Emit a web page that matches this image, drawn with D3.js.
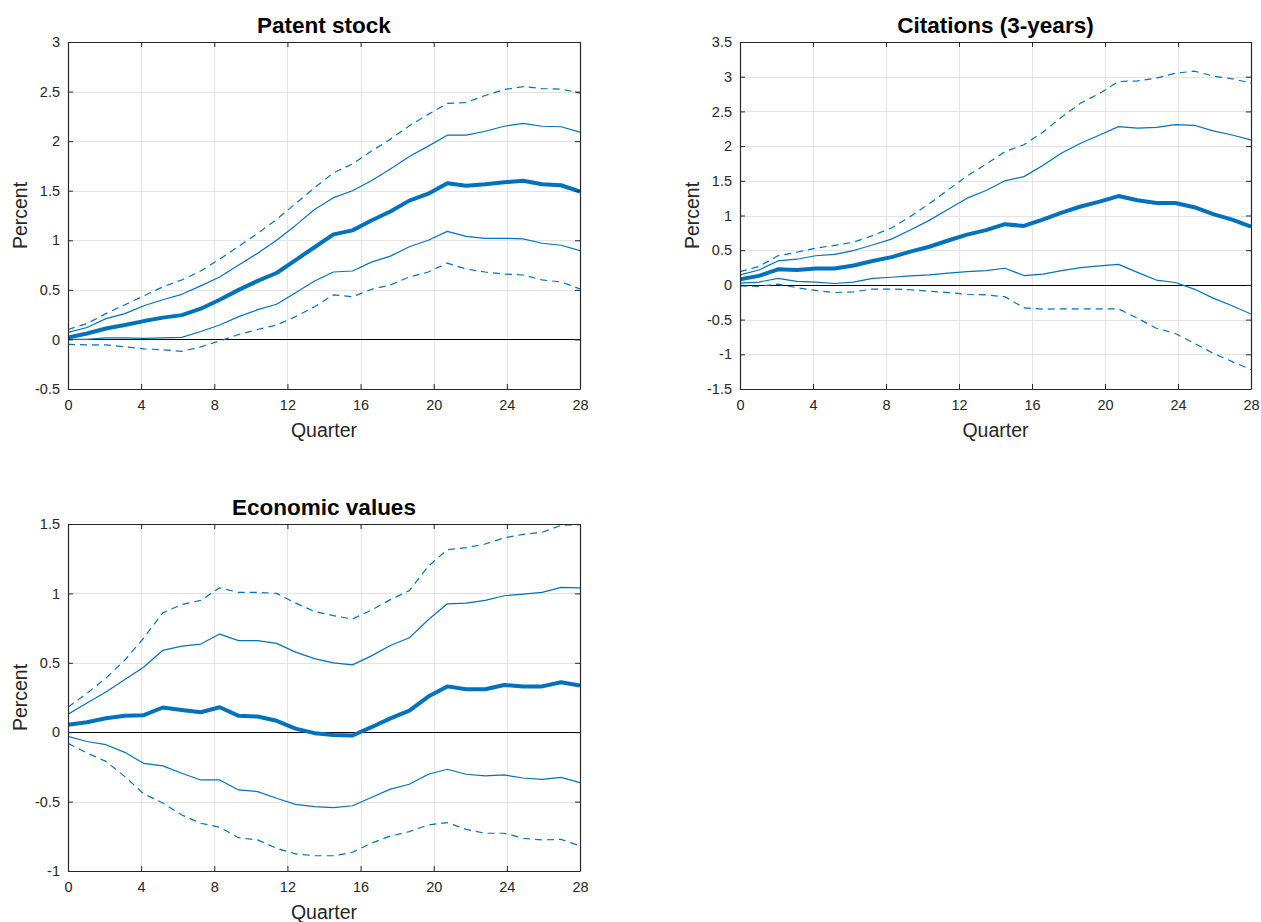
<!DOCTYPE html>
<html>
<head>
<meta charset="utf-8">
<script src="https://cdn.jsdelivr.net/npm/d3@7"></script>
<style>
  body { margin: 0; background: #fff; }
  svg { font-family: "Liberation Sans", Arial, Helvetica, sans-serif; }
</style>
</head>
<body>
<div id="chart"></div>
<script>
/* global d3 */
const width = 1261
const height = 922

// 28 horizons, spread over quarters 0..28 like the original figure
const steps = d3.range(28)
const xTicks = [0, 4, 8, 12, 16, 20, 24, 28]

const patentMedian = [0.02, 0.06, 0.11, 0.145, 0.185, 0.22, 0.245, 0.31, 0.40, 0.50, 0.59, 0.67, 0.80, 0.93, 1.06, 1.10, 1.20, 1.29, 1.40, 1.47, 1.575, 1.55, 1.565, 1.585, 1.60, 1.565, 1.555, 1.49]
const patentHi68 = [0.07, 0.12, 0.21, 0.26, 0.34, 0.40, 0.455, 0.54, 0.63, 0.75, 0.87, 1.00, 1.15, 1.31, 1.43, 1.50, 1.60, 1.72, 1.845, 1.95, 2.06, 2.06, 2.10, 2.15, 2.18, 2.15, 2.145, 2.09]
const patentLo68 = [0.0, 0.0, 0.015, 0.015, 0.01, 0.015, 0.02, 0.08, 0.145, 0.23, 0.30, 0.355, 0.47, 0.59, 0.68, 0.69, 0.78, 0.84, 0.935, 1.0, 1.09, 1.04, 1.02, 1.02, 1.015, 0.97, 0.95, 0.895]
const patentHi90 = [0.10, 0.16, 0.26, 0.35, 0.44, 0.53, 0.60, 0.69, 0.81, 0.94, 1.07, 1.21, 1.37, 1.53, 1.68, 1.77, 1.90, 2.02, 2.155, 2.27, 2.38, 2.39, 2.46, 2.52, 2.55, 2.53, 2.525, 2.485]
const patentLo90 = [-0.05, -0.055, -0.055, -0.075, -0.095, -0.105, -0.12, -0.075, -0.015, 0.05, 0.10, 0.145, 0.23, 0.33, 0.45, 0.43, 0.505, 0.55, 0.63, 0.68, 0.77, 0.71, 0.68, 0.66, 0.65, 0.60, 0.58, 0.51]
const patentTicks = [-0.5, 0, 0.5, 1, 1.5, 2, 2.5, 3]

const citeMedian = [0.08, 0.13, 0.225, 0.215, 0.235, 0.235, 0.28, 0.345, 0.40, 0.48, 0.55, 0.64, 0.725, 0.79, 0.875, 0.85, 0.94, 1.04, 1.13, 1.20, 1.28, 1.22, 1.18, 1.18, 1.12, 1.02, 0.94, 0.84]
const citeHi68 = [0.145, 0.215, 0.345, 0.37, 0.42, 0.44, 0.495, 0.575, 0.66, 0.79, 0.93, 1.09, 1.25, 1.36, 1.50, 1.56, 1.72, 1.90, 2.04, 2.16, 2.28, 2.26, 2.27, 2.31, 2.30, 2.22, 2.16, 2.09]
const citeLo68 = [0.025, 0.04, 0.095, 0.05, 0.04, 0.02, 0.04, 0.095, 0.11, 0.13, 0.145, 0.17, 0.19, 0.205, 0.24, 0.135, 0.155, 0.205, 0.25, 0.275, 0.295, 0.18, 0.07, 0.035, -0.06, -0.19, -0.30, -0.42]
const citeHi90 = [0.19, 0.265, 0.42, 0.47, 0.53, 0.57, 0.615, 0.71, 0.82, 0.985, 1.17, 1.37, 1.57, 1.74, 1.92, 2.02, 2.20, 2.42, 2.62, 2.76, 2.93, 2.94, 2.98, 3.05, 3.08, 3.01, 2.97, 2.91]
const citeLo90 = [-0.015, -0.02, 0.01, -0.04, -0.08, -0.11, -0.10, -0.06, -0.06, -0.07, -0.09, -0.11, -0.135, -0.145, -0.17, -0.33, -0.35, -0.345, -0.345, -0.345, -0.345, -0.48, -0.625, -0.70, -0.84, -0.985, -1.105, -1.22]
const citeTicks = [-1.5, -1, -0.5, 0, 0.5, 1, 1.5, 2, 2.5, 3, 3.5]

const econMedian = [0.053, 0.072, 0.10, 0.118, 0.123, 0.178, 0.16, 0.144, 0.18, 0.118, 0.113, 0.082, 0.026, -0.007, -0.02, -0.024, 0.036, 0.10, 0.156, 0.257, 0.33, 0.31, 0.31, 0.34, 0.33, 0.33, 0.36, 0.336]
const econHi68 = [0.13, 0.21, 0.29, 0.38, 0.47, 0.59, 0.62, 0.635, 0.707, 0.66, 0.66, 0.64, 0.577, 0.53, 0.50, 0.485, 0.55, 0.625, 0.68, 0.81, 0.925, 0.93, 0.95, 0.983, 0.995, 1.007, 1.043, 1.04]
const econLo68 = [-0.03, -0.067, -0.09, -0.145, -0.225, -0.243, -0.296, -0.344, -0.344, -0.416, -0.428, -0.476, -0.52, -0.536, -0.543, -0.53, -0.47, -0.41, -0.375, -0.303, -0.267, -0.303, -0.315, -0.308, -0.33, -0.34, -0.325, -0.363]
const econHi90 = [0.18, 0.28, 0.39, 0.52, 0.68, 0.86, 0.92, 0.95, 1.04, 1.007, 1.007, 1.0, 0.93, 0.87, 0.84, 0.815, 0.88, 0.955, 1.02, 1.195, 1.315, 1.33, 1.356, 1.40, 1.425, 1.44, 1.49, 1.495]
const econLo90 = [-0.08, -0.15, -0.21, -0.32, -0.445, -0.51, -0.596, -0.656, -0.685, -0.76, -0.776, -0.836, -0.877, -0.89, -0.89, -0.865, -0.80, -0.748, -0.716, -0.668, -0.651, -0.70, -0.728, -0.728, -0.764, -0.776, -0.772, -0.82]
const econTicks = [-1, -0.5, 0, 0.5, 1, 1.5]

const blue = '#0072BD'
const axisColor = '#262626'
const gridColor = '#e3e3e3'

const panels = [
  { title: 'Patent stock', left: 68, top: 42, w: 512, h: 347, ticks: patentTicks,
    median: patentMedian, hi68: patentHi68, lo68: patentLo68, hi90: patentHi90, lo90: patentLo90 },
  { title: 'Citations (3-years)', left: 740, top: 42, w: 511, h: 347, ticks: citeTicks,
    median: citeMedian, hi68: citeHi68, lo68: citeLo68, hi90: citeHi90, lo90: citeLo90 },
  { title: 'Economic values', left: 68, top: 524, w: 512, h: 347, ticks: econTicks,
    median: econMedian, hi68: econHi68, lo68: econLo68, hi90: econHi90, lo90: econLo90 }
]

const svg = d3.select('#chart')
  .append('svg')
  .attr('width', width)
  .attr('height', height)

function drawPanel(p, idx) {
  const g = svg.append('g')
    .attr('transform', `translate(${p.left}, ${p.top})`)

  const x = d3.scaleLinear().domain([0, 28]).range([0, p.w])
  const xStep = d3.scaleLinear().domain([0, 27]).range([0, p.w])
  const y = d3.scaleLinear().domain(d3.extent(p.ticks)).range([p.h, 0])

  // grid
  g.append('g')
    .selectAll('line')
    .data(xTicks)
    .enter()
    .append('line')
    .attr('x1', (d) => Math.round(x(d)) + 0.5)
    .attr('x2', (d) => Math.round(x(d)) + 0.5)
    .attr('y1', 0)
    .attr('y2', p.h)
    .attr('stroke', gridColor)
  g.append('g')
    .selectAll('line')
    .data(p.ticks)
    .enter()
    .append('line')
    .attr('y1', (d) => Math.round(y(d)) + 0.5)
    .attr('y2', (d) => Math.round(y(d)) + 0.5)
    .attr('x1', 0)
    .attr('x2', p.w)
    .attr('stroke', gridColor)

  // zero line
  g.append('line')
    .attr('x1', 0)
    .attr('x2', p.w)
    .attr('y1', Math.round(y(0)) + 0.5)
    .attr('y2', Math.round(y(0)) + 0.5)
    .attr('stroke', '#000')
    .attr('stroke-width', 1)

  const clipId = `clip${idx}`
  g.append('clipPath').attr('id', clipId)
    .append('rect').attr('width', p.w).attr('height', p.h)

  const line = (vals) => d3.line()
    .x((d) => xStep(d))
    .y((d) => y(vals[d]))(steps)

  const lines = g.append('g').attr('clip-path', `url(#${clipId})`)
  const series = [
    { vals: p.hi90, w: 1.2, dash: '7,5' },
    { vals: p.lo90, w: 1.2, dash: '7,5' },
    { vals: p.hi68, w: 1.2, dash: null },
    { vals: p.lo68, w: 1.2, dash: null },
    { vals: p.median, w: 4, dash: null }
  ]
  series.forEach((s) => {
    lines.append('path')
      .attr('d', line(s.vals))
      .attr('fill', 'none')
      .attr('stroke', blue)
      .attr('stroke-width', s.w)
      .attr('stroke-linejoin', 'round')
      .attr('stroke-dasharray', s.dash)
  })

  // axes, ticks pointing inward on all four sides
  const xAxis = d3.axisBottom(x).tickValues(xTicks).tickSizeInner(-5).tickSizeOuter(0).tickPadding(11)
  const yAxis = d3.axisLeft(y).tickValues(p.ticks).tickSizeInner(-5).tickSizeOuter(0).tickPadding(8).tickFormat((d) => String(d))

  const gx = g.append('g').attr('transform', `translate(0, ${p.h})`).call(xAxis)
  const gy = g.append('g').call(yAxis)
  const gxTop = g.append('g').call(d3.axisTop(x).tickValues(xTicks).tickSizeInner(-5).tickSizeOuter(0).tickFormat(''))
  const gyRight = g.append('g').attr('transform', `translate(${p.w}, 0)`)
    .call(d3.axisRight(y).tickValues(p.ticks).tickSizeInner(-5).tickSizeOuter(0).tickFormat(''))

  ;[gx, gy, gxTop, gyRight].forEach((a) => {
    a.select('.domain').attr('stroke', axisColor).attr('stroke-width', 1.2)
    a.selectAll('.tick line').attr('stroke', axisColor)
    a.selectAll('text')
      .attr('fill', axisColor)
      .style('font-size', '14.5px')
      .style('font-family', '"Liberation Sans", Arial, sans-serif')
  })

  g.append('text')
    .attr('x', p.w / 2)
    .attr('y', -9)
    .attr('text-anchor', 'middle')
    .style('font-size', '22.5px')
    .style('font-weight', 'bold')
    .attr('fill', '#000')
    .text(p.title)

  g.append('text')
    .attr('x', p.w / 2)
    .attr('y', p.h + 48)
    .attr('text-anchor', 'middle')
    .style('font-size', '19.5px')
    .attr('fill', axisColor)
    .text('Quarter')

  g.append('text')
    .attr('transform', `translate(-41, ${p.h / 2}) rotate(-90)`)
    .attr('text-anchor', 'middle')
    .style('font-size', '19.5px')
    .attr('fill', axisColor)
    .text('Percent')
}

panels.forEach(drawPanel)
</script>
</body>
</html>
